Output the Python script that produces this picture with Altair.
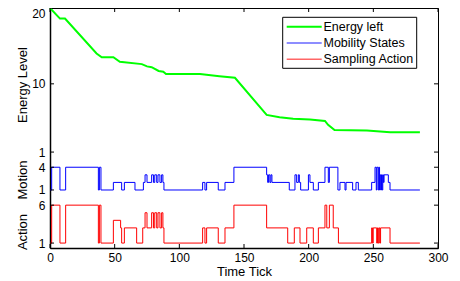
import altair as alt
import pandas as pd

# ---------------- data ----------------
energy_t = [0, 7.7, 11.6, 36, 40, 49, 54, 71, 75, 78.6, 84, 87.6, 89.7, 116, 131, 143,
            167.5, 177.5, 188, 201, 212.6, 215, 220, 245, 263, 286]
energy_v = [20, 18.6, 18.6, 14.0, 13.5, 13.5, 12.9, 12.6, 12.3, 12.2, 11.7, 11.6, 11.3, 11.3, 11.0, 10.8,
            5.9, 5.6, 5.4, 5.3, 5.1, 4.6, 3.9, 3.85, 3.6, 3.6]

motion_t = [0, 1.3, 7.7, 12.1, 37.4, 38.2, 39.4, 49, 55.4, 57.5, 65.7, 72.2, 73.5, 75, 78.6, 80, 81,
            82.5, 83.5, 85, 86.3, 87.3, 88.1, 118, 119.8, 121.1, 130.1, 135.3, 142.2, 167.5, 168.3,
            169, 170, 170.8, 171.6, 185, 189.4, 190.7, 192, 192.8, 193.8, 199.8, 201, 203.6, 207.5,
            212.6, 215.2, 216, 222.6, 224.2, 228.1, 228.9, 234, 236.6, 238.4, 248.7, 251.3, 252.3,
            252.8, 253.8, 254.3, 254.8, 255.3, 255.8, 256.3, 256.8, 257.3, 257.8, 258.3, 261.6,
            262.9, 286]
motion_v = [1, 4, 1, 4, 1, 4, 1, 2, 1, 2, 1, 2, 3, 2, 3, 2, 3,
            2, 3, 2, 3, 2, 1, 2, 1, 2, 1, 2, 4, 3, 2,
            3, 2, 3, 2, 1, 3, 2, 3, 2, 1, 3, 2, 1, 2,
            4, 2, 4, 1, 2, 1, 2, 1, 2, 1, 2, 4, 1,
            4, 1, 4, 1, 3, 1, 3, 1, 3, 2, 3, 2,
            1, 1]

action_t = [0, 1.3, 7.7, 12.1, 37.4, 38.2, 39.4, 49, 54.6, 55.4, 57.5, 67, 71.7, 73.5, 75, 78.6, 80,
            81, 82.5, 83.5, 85, 86.3, 87.3, 88.1, 118, 119.8, 121.1, 130.1, 135.3, 142.2, 167.5,
            183.8, 188.9, 193.3, 198.5, 203.6, 207.5, 212.6, 214, 216, 219, 223, 248.7, 249.3,
            249.9, 252.6, 253.2, 253.8, 254.4, 255, 255.6, 262.9, 286]
action_v = [1, 6, 1, 6, 1, 6, 1, 4, 3, 1, 3, 1, 3, 5, 3, 5, 3,
            5, 3, 5, 3, 5, 3, 1, 3, 1, 3, 1, 3, 6, 3,
            1, 3, 1, 3, 1, 3, 6, 3, 6, 3, 1, 3, 1,
            3, 1, 3, 1, 3, 1, 3, 1, 1]

x_ticks = [0, 50, 100, 150, 200, 250, 300]
y_ticks = [20, 10, 1, -1, -4, -6, -11]
y_tick_labels = ["20", "10", "1", "4", "1", "6", "1"]
legend_labels = ["Energy left", "Mobility States", "Sampling Action"]
legend_colors = ["#00ff00", "#0000ff", "#ff0000"]

MOTION_SHIFT = -5
ACTION_SHIFT = -12

df_e = pd.DataFrame({"t": energy_t, "y": energy_v})
df_m = pd.DataFrame({"t": motion_t, "y": [v + MOTION_SHIFT for v in motion_v]})
df_a = pd.DataFrame({"t": action_t, "y": [v + ACTION_SHIFT for v in action_v]})

W, H = 388, 240
FONT = "Liberation Sans"

xscale = alt.Scale(domain=[0, 300], nice=False, zero=False)
yscale = alt.Scale(domain=[-11.65, 20], nice=False, zero=False)

label_expr = " : ".join(
    [f"datum.value == {v} ? '{l}'" for v, l in zip(y_ticks, y_tick_labels)]
) + " : datum.label"

xaxis = alt.Axis(values=x_ticks, title="Time Tick", ticks=False, tickSize=0, grid=False,
                 domain=True, domainColor="black", domainWidth=1.5,
                 labelFontSize=12, titleFontSize=13, titleFontWeight="normal",
                 labelPadding=4, titlePadding=2, labelFlush=False, labelColor="black",
                 titleColor="black", labelFont=FONT, titleFont=FONT)
yaxis = alt.Axis(values=y_ticks, labelExpr=label_expr, title=None, ticks=False, tickSize=0,
                 grid=False, domain=True, domainColor="black", domainWidth=1.5,
                 labelFontSize=12, labelPadding=5, labelFlush=1, labelFlushOffset=0,
                 labelOverlap=False, labelColor="black", labelFont=FONT)

X = alt.X("t:Q", scale=xscale, axis=xaxis)
Y = alt.Y("y:Q", scale=yscale, axis=yaxis)

energy = alt.Chart(df_e).mark_line(color="#00ff00", strokeWidth=2).encode(x=X, y=Y)
motion = alt.Chart(df_m).mark_line(color="#0000ff", strokeWidth=1, interpolate="step-after").encode(x=X, y=Y)
action = alt.Chart(df_a).mark_line(color="#ff0000", strokeWidth=1, interpolate="step-after").encode(x=X, y=Y)

# inward ticks (MATLAB style)
df_xt = pd.DataFrame({"t": x_ticks})
df_yt = pd.DataFrame({"y": y_ticks})
TL = 4
xt_bottom = alt.Chart(df_xt).mark_rule(color="black", strokeWidth=1).encode(
    x=X, y=alt.value(H), y2=alt.value(H - TL))
xt_top = alt.Chart(df_xt).mark_rule(color="black", strokeWidth=1).encode(
    x=X, y=alt.value(0), y2=alt.value(TL))
yt_left = alt.Chart(df_yt).mark_rule(color="black", strokeWidth=1).encode(
    y=Y, x=alt.value(0), x2=alt.value(TL))
yt_right = alt.Chart(df_yt).mark_rule(color="black", strokeWidth=1).encode(
    y=Y, x=alt.value(W), x2=alt.value(W - TL))

one = pd.DataFrame({"a": [0]})

# y-axis titles
titles = []
for txt, ty in [("Energy Level", 77), ("Motion", 172), ("Action", 224)]:
    titles.append(alt.Chart(one).mark_text(angle=270, fontSize=13, font=FONT, color="black",
                                           align="center", baseline="middle").encode(
        x=alt.value(-27), y=alt.value(ty), text=alt.value(txt)))

# legend
lx0, lx1, ly0, ly1 = 232.7, 366.7, 9.3, 60.3
legend_box = alt.Chart(one).mark_rect(fill="white", stroke="black", strokeWidth=1).encode(
    x=alt.value(lx0), x2=alt.value(lx1), y=alt.value(ly0), y2=alt.value(ly1))
legend_parts = [legend_box]
for i, (lab, col) in enumerate(zip(legend_labels, legend_colors)):
    yy = 18.7 + i * 16.3
    legend_parts.append(alt.Chart(one).mark_rule(color=col, strokeWidth=2 if i == 0 else 1.5,
                                                 opacity=1 if i == 0 else 0.6).encode(
        x=alt.value(236.7), x2=alt.value(271.7), y=alt.value(yy)))
    legend_parts.append(alt.Chart(one).mark_text(fontSize=12.5, font=FONT, color="black",
                                                 align="left", baseline="middle").encode(
        x=alt.value(273.5), y=alt.value(yy), text=alt.value(lab)))

chart = alt.layer(
    energy, motion, action, xt_bottom, xt_top, yt_left, yt_right, *titles, *legend_parts
).properties(
    width=W, height=H,
    background="white",
    autosize=alt.AutoSizeParams(type="none"),
    padding={"left": 42, "top": 0, "right": 14, "bottom": 33},
).configure(font=FONT).configure_view(stroke="black", strokeWidth=1)

chart.save("out.html", embed_options={"renderer": "svg", "actions": False})
